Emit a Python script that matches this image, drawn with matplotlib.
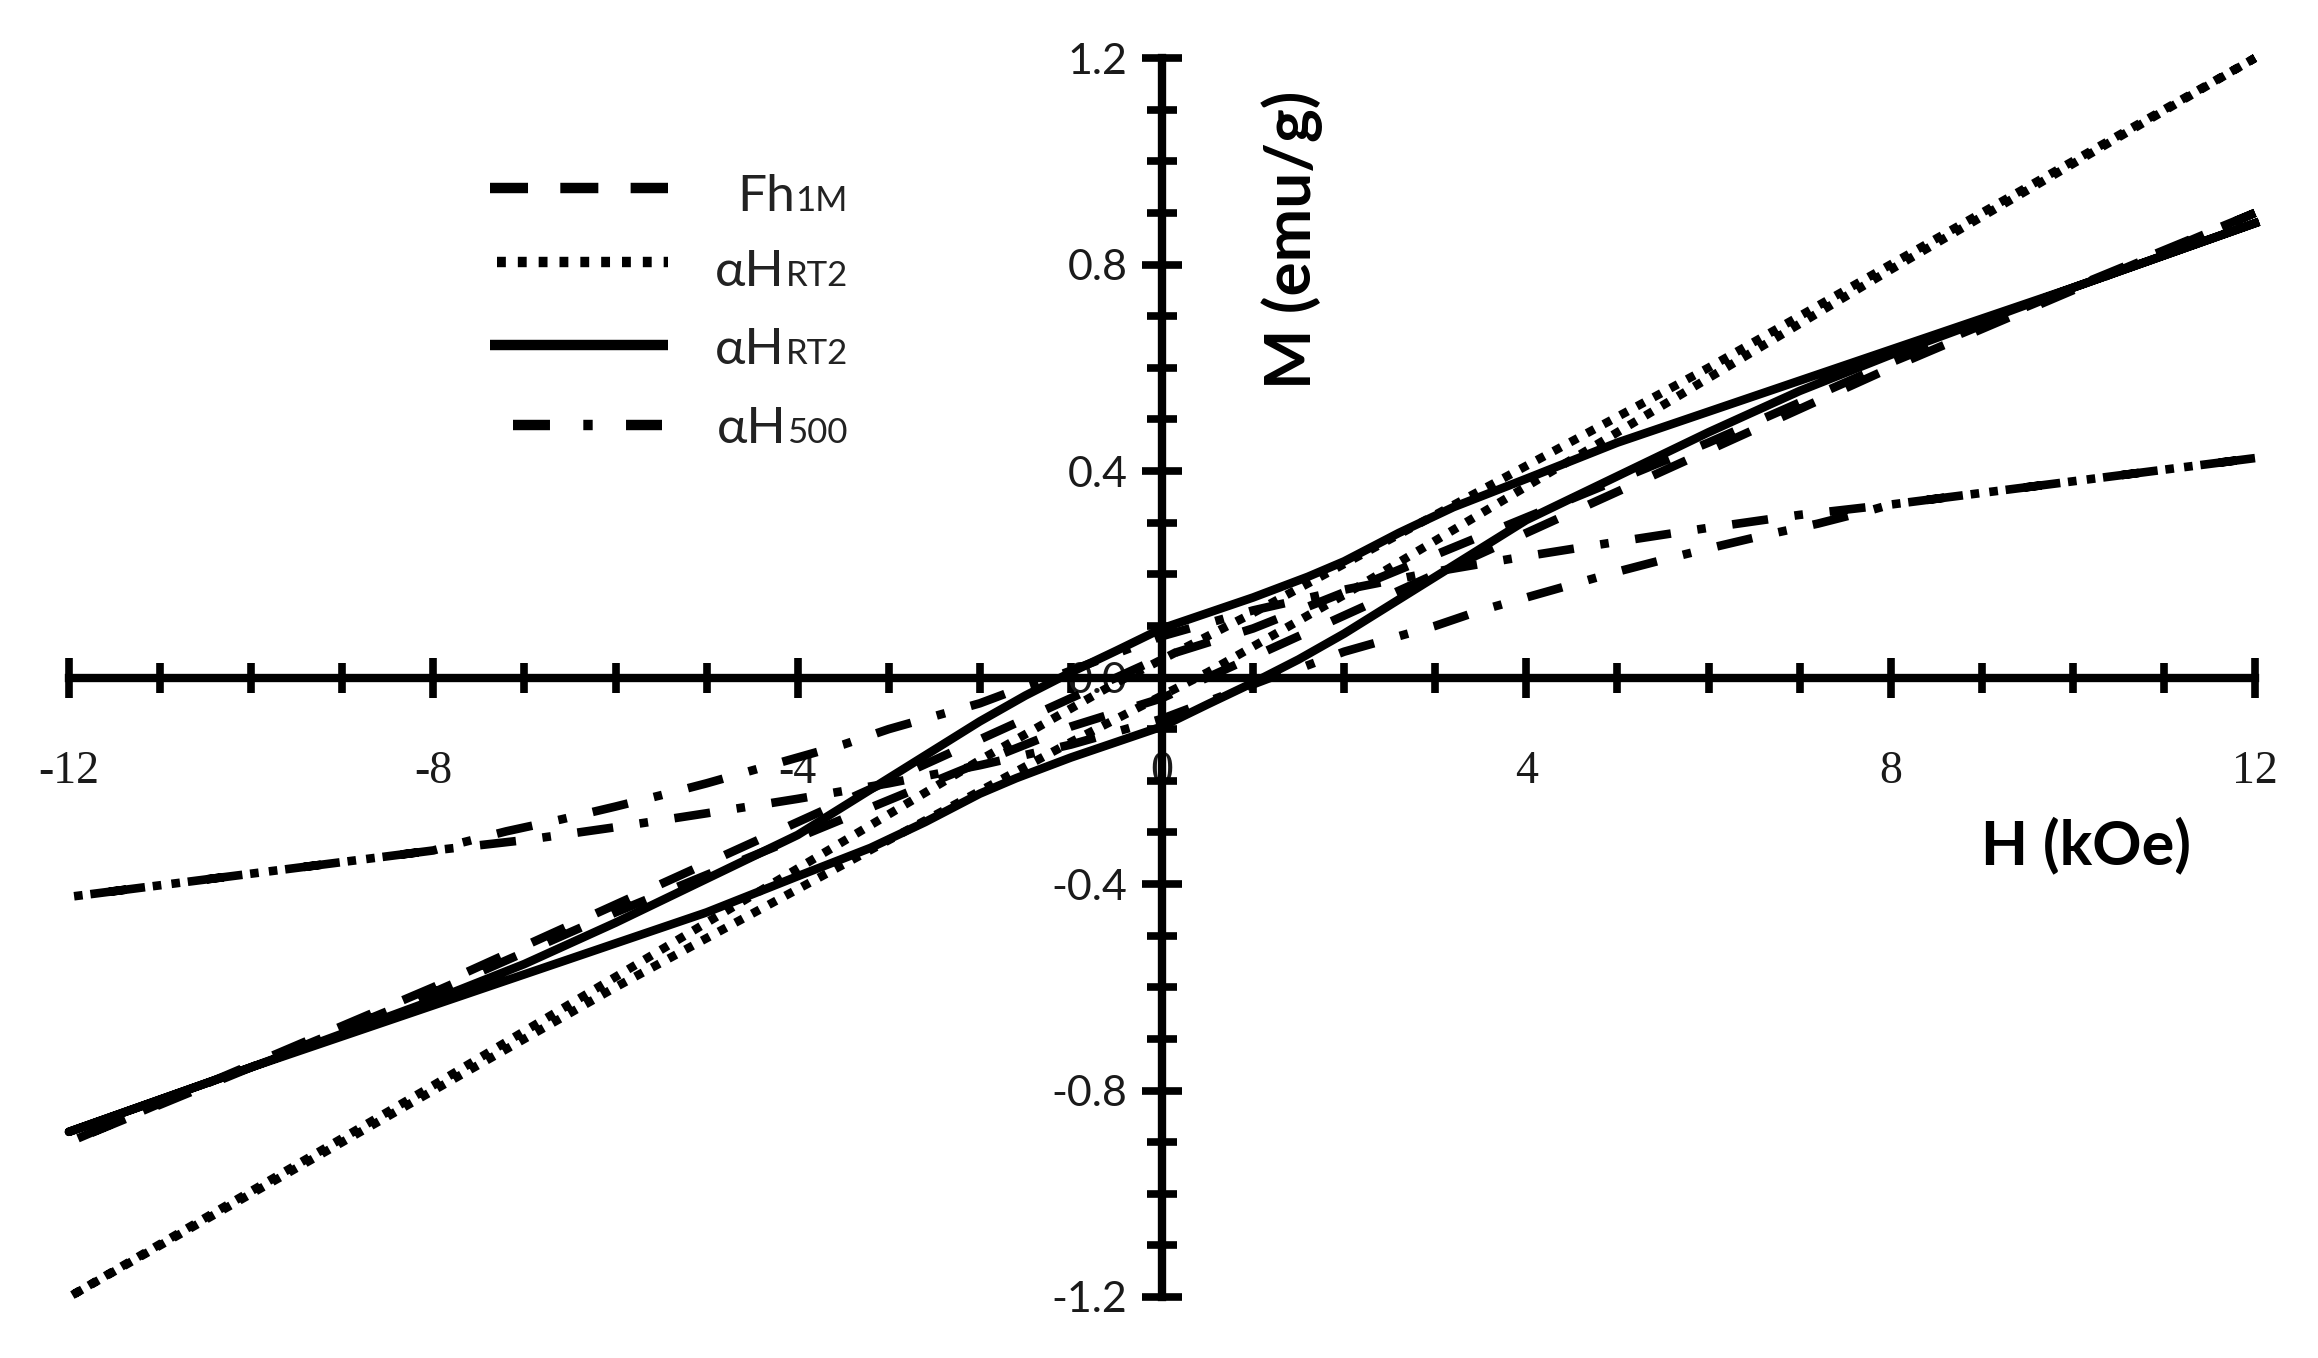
import matplotlib
matplotlib.use("Agg")
import matplotlib.pyplot as plt
from matplotlib.lines import Line2D
from matplotlib.ticker import MultipleLocator, FixedLocator

# ---------------- data ----------------
# solid alpha-H RT2 loop: descending branch (12 -> -12) and ascending branch (-12 -> 12)
solid_h_desc = [12, 10, 8, 7, 6, 5, 4, 3.2, 2.6, 2, 1.6, 1, 0.5, 0, -0.5, -1, -1.5, -2, -2.5, -3, -3.5, -4, -5, -6, -7, -8, -10, -12]
solid_m_desc = [0.88, 0.755, 0.635, 0.575, 0.515, 0.455, 0.385, 0.33, 0.28, 0.225, 0.195, 0.155, 0.125, 0.095, 0.052, 0.01, -0.035, -0.085, -0.14, -0.195, -0.25, -0.305, -0.39, -0.475, -0.555, -0.625, -0.755, -0.88]
solid_h_asc = [-12, -10, -8, -7, -6, -5, -4, -3.2, -2.6, -2, -1.6, -1, -0.5, 0, 0.5, 1, 1.5, 2, 2.5, 3, 3.5, 4, 5, 6, 7, 8, 10, 12]
solid_m_asc = [-0.88, -0.755, -0.635, -0.575, -0.515, -0.455, -0.385, -0.33, -0.28, -0.225, -0.195, -0.155, -0.125, -0.095, -0.052, -0.01, 0.035, 0.085, 0.14, 0.195, 0.25, 0.305, 0.39, 0.475, 0.555, 0.625, 0.755, 0.88]

# dotted alpha-H RT2 loop
dot_h_desc = [12, 8, 6, 4, 3, 2, 1, 0.5, 0, -0.5, -1, -2, -3, -4, -6, -8, -12]
dot_m_desc = [1.2, 0.8, 0.6, 0.41, 0.315, 0.22, 0.125, 0.08, 0.035, -0.01, -0.06, -0.16, -0.265, -0.37, -0.58, -0.79, -1.2]
dot_h_asc = [-12, -8, -6, -4, -3, -2, -1, -0.5, 0, 0.5, 1, 2, 3, 4, 6, 8, 12]
dot_m_asc = [-1.2, -0.8, -0.6, -0.41, -0.315, -0.22, -0.125, -0.08, -0.035, 0.01, 0.06, 0.16, 0.265, 0.37, 0.58, 0.79, 1.2]

# dashed Fh1M loop
fh_h_desc = [12, 8, 6, 4, 2, 1, 0, -1, -2, -4, -6, -8, -12]
fh_m_desc = [0.9, 0.61, 0.455, 0.31, 0.165, 0.095, 0.04, -0.04, -0.12, -0.28, -0.44, -0.60, -0.9]
fh_h_asc = [-12, -8, -6, -4, -2, -1, 0, 1, 2, 4, 6, 8, 12]
fh_m_asc = [-0.9, -0.61, -0.455, -0.31, -0.165, -0.095, -0.04, 0.04, 0.12, 0.28, 0.44, 0.60, 0.9]

# dash-dot alpha-H500 loop
h500_h_desc = [12, 10, 8, 7, 6, 5, 4, 3, 2, 1, 0, -0.6, -1.2, -1.5, -2, -2.4, -3, -3.5, -4.3, -5, -5.5, -6, -6.6, -7.2, -7.8, -8, -10, -12]
h500_m_desc = [0.425, 0.38, 0.335, 0.315, 0.29, 0.263, 0.235, 0.205, 0.17, 0.13, 0.08, 0.04, 0.0, -0.017, -0.05, -0.07, -0.10, -0.13, -0.17, -0.205, -0.228, -0.25, -0.275, -0.298, -0.325, -0.335, -0.38, -0.425]
h500_h_asc = [-12, -10, -8, -7, -6, -5, -4, -3, -2, -1, 0, 0.6, 1.2, 1.5, 2, 2.4, 3, 3.5, 4.3, 5, 5.5, 6, 6.6, 7.2, 7.8, 8, 10, 12]
h500_m_asc = [-0.425, -0.38, -0.335, -0.315, -0.29, -0.263, -0.235, -0.205, -0.17, -0.13, -0.08, -0.04, 0.0, 0.017, 0.05, 0.07, 0.10, 0.13, 0.17, 0.205, 0.228, 0.25, 0.275, 0.298, 0.325, 0.335, 0.38, 0.425]

x_ticks = [-12, -8, -4, 0, 4, 8, 12]
x_tick_labels = ["-12", "-8", "-4", "0", "4", "8", "12"]
y_ticks = [-1.2, -0.8, -0.4, 0.0, 0.4, 0.8, 1.2]
y_tick_labels = ["-1.2", "-0.8", "-0.4", "0.0", "0.4", "0.8", "1.2"]

legend_main = ["Fh", "\u03b1H", "\u03b1H", "\u03b1H"]
legend_small = ["1M", "RT2", "RT2", "500"]

# ---------------- figure ----------------
W, H = 2318, 1358
fig = plt.figure(figsize=(W / 100, H / 100), dpi=100)
ax = fig.add_axes([69 / W, 1 - 1297 / H, (2255 - 69) / W, (1297 - 58) / H])
ax.set_xlim(-12, 12)
ax.set_ylim(-1.2, 1.2)

LW = 6.2
DASHED = (0, (4.2, 4.0))
DOTTED = (0, (1.0, 1.2))
DASHDOT = (0, (4.2, 3.1, 1.0, 3.1))

def loop(hd, md, ha, ma):
    return hd + ha, md + ma

xs, ys = loop(h500_h_desc, h500_m_desc, h500_h_asc, h500_m_asc)
ax.plot(xs, ys, color="black", lw=LW, linestyle=DASHDOT, clip_on=False, zorder=3)
xs, ys = loop(fh_h_desc, fh_m_desc, fh_h_asc, fh_m_asc)
ax.plot(xs, ys, color="black", lw=LW, linestyle=DASHED, clip_on=False, zorder=3)
xs, ys = loop(dot_h_desc, dot_m_desc, dot_h_asc, dot_m_asc)
ax.plot(xs, ys, color="black", lw=LW, linestyle=DOTTED, clip_on=False, zorder=3)
xs, ys = loop(solid_h_desc, solid_m_desc, solid_h_asc, solid_m_asc)
ax.plot(xs, ys, color="black", lw=LW, linestyle="-", clip_on=False, zorder=3)

# axes through the origin
for s in ["top", "right"]:
    ax.spines[s].set_visible(False)
ax.spines["left"].set_position(("data", 0))
ax.spines["bottom"].set_position(("data", 0))
for s in ["left", "bottom"]:
    ax.spines[s].set_linewidth(6)
    ax.spines[s].set_zorder(2)
ax.patch.set_alpha(0)

ax.xaxis.set_major_locator(FixedLocator(x_ticks))
ax.xaxis.set_minor_locator(MultipleLocator(1))
ax.yaxis.set_major_locator(FixedLocator(y_ticks))
ax.yaxis.set_minor_locator(MultipleLocator(0.1))
ax.set_xticklabels(x_tick_labels)
ax.set_yticklabels(y_tick_labels)
ax.tick_params(which="major", direction="inout", length=29.5, width=5.5, color="black")
ax.tick_params(which="minor", direction="inout", length=22, width=5.5, color="black")
ax.tick_params(axis="x", which="major", pad=38, labelsize=31)
ax.tick_params(axis="y", which="major", pad=10, labelsize=31)
for lab in ax.get_xticklabels():
    lab.set_fontfamily("Liberation Serif")
    lab.set_fontsize(33)
    lab.set_color("#1a1a1a")
for lab in ax.get_yticklabels():
    lab.set_fontfamily("Lato")
    lab.set_color("#1a1a1a")

fig.text(2086 / W, 1 - 845 / H, "H (kOe)", ha="center", va="center",
         fontsize=44, fontweight="bold", family="Lato")
fig.text(1292 / W, 1 - 240 / H, "M (emu/g)", ha="center", va="center",
         rotation=90, fontsize=46, fontweight="bold", family="Lato")

# ---------------- legend ----------------
leg_line_y = [188, 262, 345, 425]
leg_base_y = [211, 286, 364, 443]
leg_x0 = [490, 497, 490, 513]
leg_x1 = [668, 668, 668, 662]
leg_pat = [(0, (3.65, 3.1)), (0, (0.85, 1.15)), "-", (0, (3.55, 3.2, 0.9, 3.2))]
for i in range(4):
    fig.add_artist(Line2D([leg_x0[i] / W, leg_x1[i] / W],
                          [1 - leg_line_y[i] / H, 1 - leg_line_y[i] / H],
                          transform=fig.transFigure, color="black", lw=7.5,
                          linestyle=leg_pat[i], solid_capstyle="butt",
                          dash_capstyle="butt"))
fig.canvas.draw()
renderer = fig.canvas.get_renderer()
for i in range(4):
    t = fig.text(848 / W, 1 - leg_base_y[i] / H, legend_small[i], ha="right",
                 va="baseline", fontsize=25, family="Lato", color="#222222")
    bb = t.get_window_extent(renderer)
    fig.text((bb.x0 - 1) / W, 1 - leg_base_y[i] / H, legend_main[i], ha="right",
             va="baseline", fontsize=37, family=["Lato", "DejaVu Serif"], color="#222222")

fig.savefig("out.png", dpi=100)
